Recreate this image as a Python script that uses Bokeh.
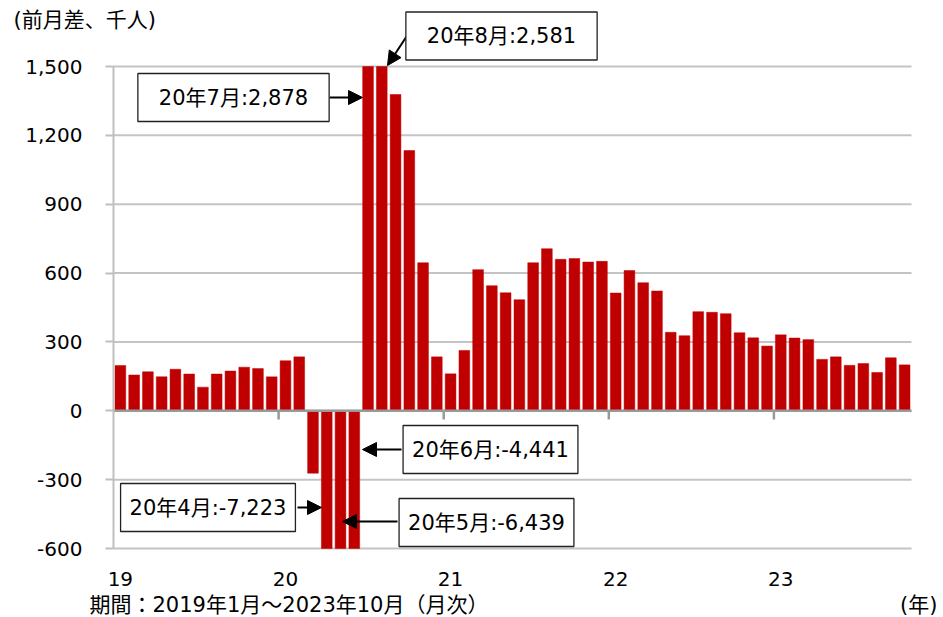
from bokeh.plotting import figure
from bokeh.models import (Range1d, FixedTicker, Label, Arrow, NormalHead,
                          NumeralTickFormatter, LinearAxis)
from bokeh.embed import file_html
from bokeh.resources import INLINE
import numpy as np

# ---- data (前月差、千人), monthly 2019-01 .. 2023-10 ----
v2019 = [197, 156, 170, 148, 181, 160, 103, 160, 173, 190, 184, 148]
v2020 = [218, 235, -272, -7223, -6439, -4441, 2878, 2581, 1378, 1134, 645, 235]
v2021 = [161, 263, 615, 545, 514, 484, 645, 706, 660, 663, 648, 651]
v2022 = [513, 611, 558, 522, 342, 327, 432, 429, 423, 340, 318, 282]
v2023 = [331, 317, 310, 224, 235, 198, 206, 167, 231, 200]
values = v2019 + v2020 + v2021 + v2022 + v2023
year_labels = ["19", "20", "21", "22", "23"]
y_ticks = [-600, -300, 0, 300, 600, 900, 1200, 1500]
notes = [  # (month index, text)
    (18, "20年7月:2,878"),
    (19, "20年8月:2,581"),
    (17, "20年6月:-4,441"),
    (15, "20年4月:-7,223"),
    (16, "20年5月:-6,439"),
]

N = len(values)
xs = np.arange(N) + 0.5

FONT = "DejaVu Sans, Noto Sans CJK JP"
RED = "#C00000"
GRID = "#C4C4C4"
ZERO = "#999999"

# plot-area geometry (canvas pixels)
FL, FR, FT, FB = 113, 911, 66, 548
W, H = 943, 617
Y0, Y1 = -600, 1500


def px2x(px):
    return (px - FL) * N / (FR - FL)


def py2y(py):
    return Y1 - (py - FT) * (Y1 - Y0) / (FB - FT)


p = figure(width=W, height=H, output_backend="svg", toolbar_location=None,
           x_range=Range1d(px2x(0), px2x(W)), y_range=Range1d(py2y(H), py2y(0)),
           x_axis_location=None, y_axis_location=None,
           min_border_left=0, min_border_right=0, min_border_top=0, min_border_bottom=0)
p.outline_line_color = None
p.background_fill_color = "white"
p.border_fill_color = "white"
p.xgrid.grid_line_color = None
p.ygrid.grid_line_color = None

# horizontal grid lines across the plot area
p.segment(x0=[0] * len(y_ticks), x1=[N] * len(y_ticks), y0=y_ticks, y1=y_ticks,
          line_color=GRID, line_width=2)

# y axis (fixed at the left edge of the plot area)
yax = LinearAxis(fixed_location=0, bounds=(Y0, Y1), ticker=FixedTicker(ticks=y_ticks),
                 formatter=NumeralTickFormatter(format="0,0"))
yax.axis_line_color = "#BFBFBF"
yax.axis_line_width = 2
yax.major_tick_line_color = "#BFBFBF"
yax.major_tick_line_width = 2
yax.major_tick_out = 8
yax.major_tick_in = 0
yax.minor_tick_line_color = None
yax.major_label_standoff = 23
yax.major_label_text_font = FONT
yax.major_label_text_font_size = "20px"
yax.major_label_text_color = "#000000"
p.add_layout(yax, "left")

# x axis (year labels only, under the plot area)
jan_pos = [12 * i + 0.5 for i in range(len(year_labels))]
xax = LinearAxis(fixed_location=Y0, ticker=FixedTicker(ticks=jan_pos))
xax.major_label_overrides = {t: lab for t, lab in zip(jan_pos, year_labels)}
xax.axis_line_color = None
xax.major_tick_line_color = None
xax.minor_tick_line_color = None
xax.major_label_standoff = 17
xax.major_label_text_font = FONT
xax.major_label_text_font_size = "20px"
xax.major_label_text_color = "#000000"
p.add_layout(xax, "below")

# bars (shown within the axis range)
p.vbar(x=xs, top=np.clip(values, Y0, Y1), bottom=0, width=0.78,
       fill_color=RED, line_color=RED, line_width=0.5)

# zero line with year tick marks
p.segment(x0=[0], x1=[N], y0=[0], y1=[0], line_color=ZERO, line_width=2.5)
year_bounds = [12 * i for i in range(1, len(year_labels))]
p.segment(x0=year_bounds, x1=year_bounds, y0=[0] * len(year_bounds),
          y1=[py2y(419)] * len(year_bounds), line_color=ZERO, line_width=2.5)

# annotations: (box centre px, arrow start px, arrow end px, horizontal padding)
geom = {
    18: ((233, 97), (329, 97), (362, 97), 21),
    19: ((501, 35.5), (406, 36), (387, 65), 21),
    17: ((490, 449), (401, 449), (362, 449), 9),
    15: ((207.5, 507), (297, 507), (321, 507), 9),
    16: ((486, 522), (397, 521), (342, 521), 9),
}
for idx, txt in notes:
    (cx, cy), (sx, sy), (ex, ey), padx = geom[idx]
    p.add_layout(Arrow(x_start=px2x(sx), y_start=py2y(sy), x_end=px2x(ex), y_end=py2y(ey),
                       line_color="black", line_width=2,
                       end=NormalHead(size=14, fill_color="black", line_color="black")))
    p.add_layout(Label(x=px2x(cx), y=py2y(cy), text=txt, text_align="center",
                       text_baseline="middle", text_font=FONT, text_font_size="21px",
                       text_color="black", background_fill_color="white",
                       border_line_color="#222222", border_line_width=1.3,
                       padding=dict(left=padx, right=padx, top=12, bottom=12)))

# titles / notes
p.add_layout(Label(x=px2x(13), y=py2y(19), text="(前月差、千人)", text_align="left",
                   text_baseline="middle", text_font=FONT, text_font_size="21px",
                   text_color="black"))
p.add_layout(Label(x=px2x(89), y=py2y(604), text="期間：2019年1月～2023年10月（月次）",
                   text_align="left", text_baseline="middle", text_font=FONT,
                   text_font_size="21px", text_color="black"))
p.add_layout(Label(x=px2x(937), y=py2y(604), text="(年)", text_align="right",
                   text_baseline="middle", text_font=FONT,
                   text_font_size="21px", text_color="black"))

open("out.html", "w").write(file_html(p, INLINE))
